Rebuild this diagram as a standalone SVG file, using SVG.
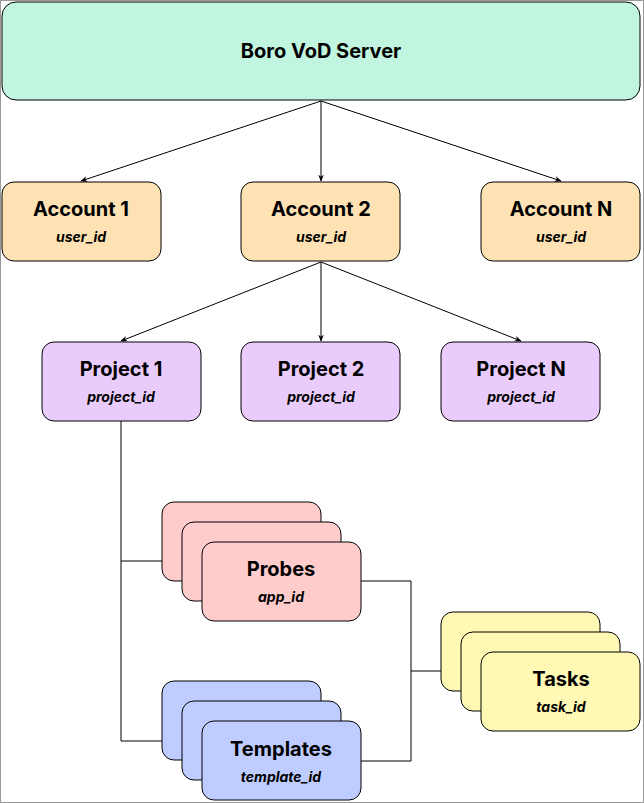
<svg xmlns="http://www.w3.org/2000/svg" width="644" height="803" viewBox="0 0 644 803">
<defs>
<marker id="a" viewBox="0 0 10 10" refX="9" refY="5" markerWidth="7" markerHeight="7" orient="auto"><path d="M0,1 L10,5 L0,9 L3,5 Z" fill="#000"/></marker>
<style>
rect.n{stroke:#000;stroke-width:1}
.t{font-family:Inter,"Liberation Sans",sans-serif;font-weight:bold;font-size:20px;text-anchor:middle}
.s{font-family:Inter,"Liberation Sans",sans-serif;font-weight:bold;font-style:italic;font-size:14px;text-anchor:middle}
.c{fill:none;stroke:#000;stroke-width:1}
</style>
</defs>
<rect x="0.5" y="0.5" width="643" height="802" fill="#fff" stroke="#999"/>
<g id="connectors" class="c">
<path d="M321,101 L81,181" marker-end="url(#a)"/>
<path d="M321,101 L321,181" marker-end="url(#a)"/>
<path d="M321,101 L561,181" marker-end="url(#a)"/>
<path d="M321,262 L121,341" marker-end="url(#a)"/>
<path d="M321,262 L321,341" marker-end="url(#a)"/>
<path d="M321,262 L521,341" marker-end="url(#a)"/>
<path d="M121,421 L121,741 L181,741" marker-end="url(#a)"/>
<path d="M121,561 L181,561" marker-end="url(#a)"/>
<path d="M361,581 L411,581 L411,761 L361,761"/>
<path d="M411,671 L441,671"/>
</g>
<g id="server"><rect class="n" x="2" y="2" width="638" height="98" rx="14" fill="#C2F5E0"/><text class="t" x="321" y="58">Boro VoD Server</text></g>
<g id="account1"><rect class="n" x="2" y="182" width="159" height="79" rx="12" fill="#FFE2B3"/><text class="t" x="81" y="216">Account  1</text><text class="s" x="81" y="242">user_id</text></g>
<g id="account2"><rect class="n" x="241" y="182" width="159" height="79" rx="12" fill="#FFE2B3"/><text class="t" x="321" y="216">Account  2</text><text class="s" x="321" y="242">user_id</text></g>
<g id="accountN"><rect class="n" x="481" y="182" width="159" height="79" rx="12" fill="#FFE2B3"/><text class="t" x="561" y="216">Account  N</text><text class="s" x="561" y="242">user_id</text></g>
<g id="project1"><rect class="n" x="42" y="342" width="159" height="79" rx="12" fill="#EACCFC"/><text class="t" x="121" y="376">Project 1</text><text class="s" x="121" y="402">project_id</text></g>
<g id="project2"><rect class="n" x="241" y="342" width="159" height="79" rx="12" fill="#EACCFC"/><text class="t" x="321" y="376">Project 2</text><text class="s" x="321" y="402">project_id</text></g>
<g id="projectN"><rect class="n" x="441" y="342" width="159" height="79" rx="12" fill="#EACCFC"/><text class="t" x="521" y="376">Project N</text><text class="s" x="521" y="402">project_id</text></g>
<g id="probes" fill="#FFCCCC">
<rect class="n" x="162" y="502" width="159" height="79" rx="12"/>
<rect class="n" x="182" y="522" width="159" height="79" rx="12"/>
<rect class="n" x="202" y="542" width="159" height="79" rx="12"/>
<text class="t" x="281" y="576" fill="#000">Probes</text><text class="s" x="281" y="602" fill="#000">app_id</text></g>
<g id="templates" fill="#BFCCFF">
<rect class="n" x="162" y="681" width="159" height="79" rx="12"/>
<rect class="n" x="182" y="701" width="159" height="79" rx="12"/>
<rect class="n" x="202" y="721" width="159" height="79" rx="12"/>
<text class="t" x="281" y="756" fill="#000">Templates</text><text class="s" x="281" y="782" fill="#000">template_id</text></g>
<g id="tasks" fill="#FFF9B5">
<rect class="n" x="441" y="612" width="159" height="79" rx="12"/>
<rect class="n" x="461" y="632" width="159" height="79" rx="12"/>
<rect class="n" x="481" y="652" width="159" height="79" rx="12"/>
<text class="t" x="561" y="686" fill="#000">Tasks</text><text class="s" x="561" y="712" fill="#000">task_id</text></g>
</svg>
